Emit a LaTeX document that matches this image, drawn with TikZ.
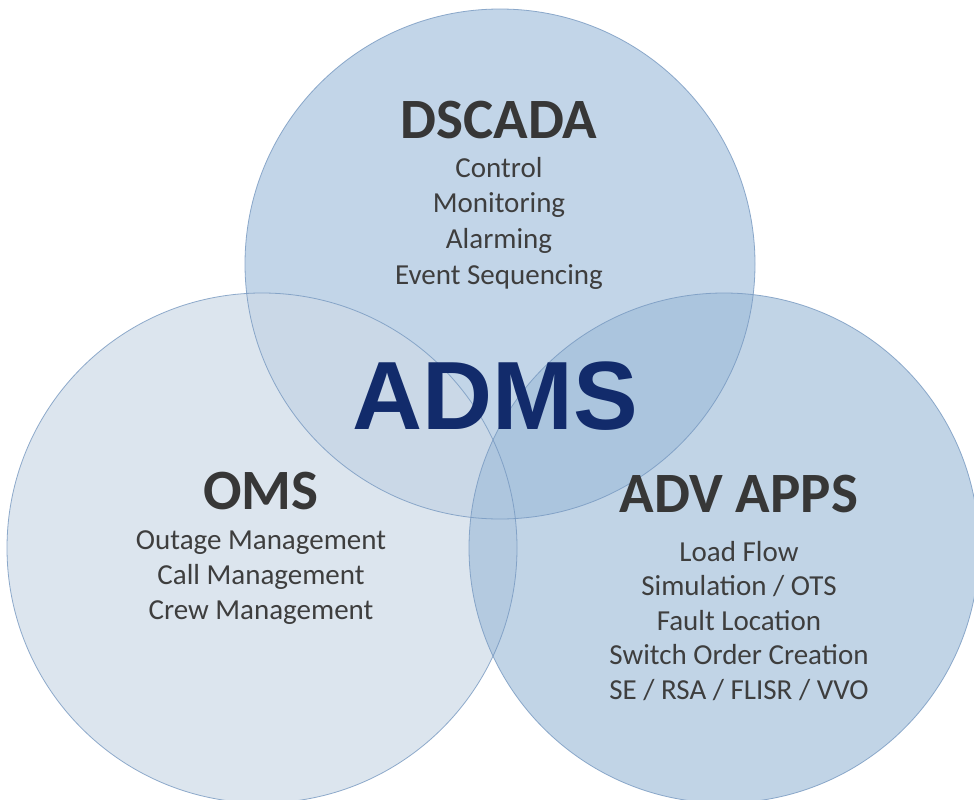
\documentclass[tikz,border=0pt]{standalone}
\usepackage{fontspec}
\setmainfont{Carlito}
\newfontfamily\admsfont{Liberation Sans}
\definecolor{scadafill}{RGB}{194,213,232}
\definecolor{omsfill}{RGB}{206,218,231}
\definecolor{advfill}{RGB}{160,189,218}
\definecolor{ringline}{RGB}{118,152,192}
\definecolor{headtext}{RGB}{55,55,55}
\definecolor{itemtext}{RGB}{62,62,62}
\definecolor{admsblue}{RGB}{18,43,107}
\begin{document}
\begin{tikzpicture}[x=1pt,y=-1pt]
\tikzset{Ring/.style = {circle,minimum size=510pt,inner sep=0pt},
  Head/.style = {inner sep=0pt,text=headtext,font=\fontsize{57}{57}\selectfont\bfseries},
  Items/.style = {inner sep=0pt,align=center,text=itemtext}}
\clip (0,0) rectangle (974,800);
\fill[white] (0,0) rectangle (974,800);
\node[Ring,fill=scadafill](top) at (500,264) {};
\node[Ring,fill=omsfill,fill opacity=0.7](left) at (262,548) {};
\node[Ring,fill=advfill,fill opacity=0.65](right) at (724,548) {};
\foreach \r in {top,left,right}
  \draw[ringline,draw opacity=0.8,line width=0.8pt] (\r.center) circle (255);
% labels
\node[Head](dscada) at (499,120) {DSCADA};
\node[Items,font=\fontsize{29}{35.7}\selectfont](dscadaitems) at (499,223) {Control\\Monitoring\\Alarming\\Event Sequencing};
\node[Head](oms) at (261,491) {OMS};
\node[Items,font=\fontsize{29}{35}\selectfont](omsitems) at (261,578) {Outage Management\\Call Management\\Crew Management};
\node[Head](adv) at (739,494) {ADV APPS};
\node[Items,font=\fontsize{29}{34.5}\selectfont](advitems) at (739,621) {Load Flow\\Simulation / OTS\\Fault Location\\Switch Order Creation\\SE / RSA / FLISR / VVO};
\node[inner sep=0pt,text=admsblue,font=\admsfont\fontsize{97}{97}\selectfont\bfseries](adms) at (495,396) {ADMS};
\end{tikzpicture}
\end{document}
